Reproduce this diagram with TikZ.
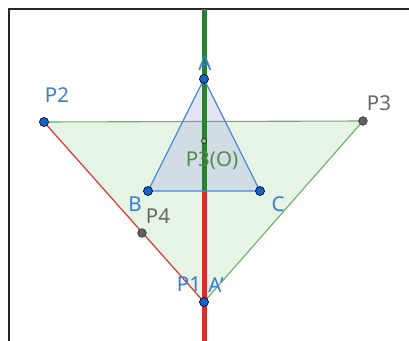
\documentclass[tikz,border=0pt]{standalone}
\usepackage{fontspec}
\setmainfont{Noto Sans}
\begin{document}
\begin{tikzpicture}[x=1pt,y=-1pt,
  bluept/.style={circle,draw=black!70!blue,fill=ptblue,line width=0.7pt,inner sep=0pt,minimum size=9pt},
  graypt/.style={circle,draw=black!80,fill=black!62,line width=0.7pt,inner sep=0pt,minimum size=8.5pt},
  smallpt/.style={circle,draw=black!60!green!60!black,fill=green!20!gray!60,line width=0.8pt,inner sep=0pt,minimum size=5pt},
  lbl/.style={font=\fontsize{20.5}{20.5}\selectfont,inner sep=0pt},
  bluelbl/.style={lbl,text=lblblue},
  graylbl/.style={lbl,text=black!60},
  greenlbl/.style={lbl,text=lblgreen}]
\definecolor{ptblue}{HTML}{1565C0}
\definecolor{lblblue}{HTML}{3A7BD5}
\definecolor{lblgreen}{HTML}{4E8A4E}
\definecolor{edgegreen}{HTML}{6AAE6A}
\definecolor{edgered}{HTML}{D84343}
\definecolor{edgeblue}{HTML}{4A8AD4}
\definecolor{axgreen}{HTML}{2E7D32}
\definecolor{axred}{HTML}{D32F2F}
\useasboundingbox (0,0) rectangle (409,340);
\fill[white] (0,0) rectangle (409,340);
% geometry
\coordinate (A) at (204,79);
\coordinate (B) at (148,191);
\coordinate (C) at (260,191);
\coordinate (O) at (204,141);
\coordinate (P1) at (204,302);
\coordinate (P2) at (44,122);
\coordinate (P3) at (363,121);
\coordinate (P4) at (142,233);
\coordinate (Top) at (204,9);
\coordinate (Mid) at (204,191);
\coordinate (Bot) at (204,342);
\coordinate (FL) at (9,342);
\coordinate (FC) at (9,9);
\coordinate (FR) at (411,9);
% frame
\draw[line width=2pt,black!85] (FL) -- (FC) -- (FR);
% big triangle
\fill[green!40!gray!30,opacity=0.45] (P2) -- (P3) -- (P1) -- cycle;
\draw[edgegreen,line width=1.1pt] (P2) -- (P3) -- (P1);
\draw[edgered,line width=1.3pt] (P2) -- (P1);
% small triangle
\fill[blue!50!gray!50,opacity=0.28] (A) -- (B) -- (C) -- cycle;
% axis
\draw[axgreen,line width=5pt] (Top) -- (Mid);
\draw[axred,line width=5pt] (Mid) -- (Bot);
\draw[edgeblue,line width=1.3pt] (A) -- (B) -- (C) -- cycle;
% points
\node[smallpt] (Odot) at (O) {};
\node[bluept] (Adot) at (A) {};
\node[bluept] (Bdot) at (B) {};
\node[bluept] (Cdot) at (C) {};
\node[bluept] (P1dot) at (P1) {};
\node[bluept] (P2dot) at (P2) {};
\node[graypt] (P3dot) at (P3) {};
\node[graypt] (P4dot) at (P4) {};
% labels
\node[bluelbl] (Alab) at (205,63) {A};
\node[bluelbl] (P2lab) at (57,95) {P2};
\node[graylbl] (P3lab) at (379,103) {P3};
\node[greenlbl] (Olab) at (212,161) {P3(O)};
\node[bluelbl] (Blab) at (135,204) {B};
\node[graylbl] (P4lab) at (158,216) {P4};
\node[bluelbl] (Clab) at (278,204) {C};
\node[bluelbl] (P1lab) at (189,284) {P1};
\node[bluelbl] (A2lab) at (216,285) {A’};
\end{tikzpicture}
\end{document}
